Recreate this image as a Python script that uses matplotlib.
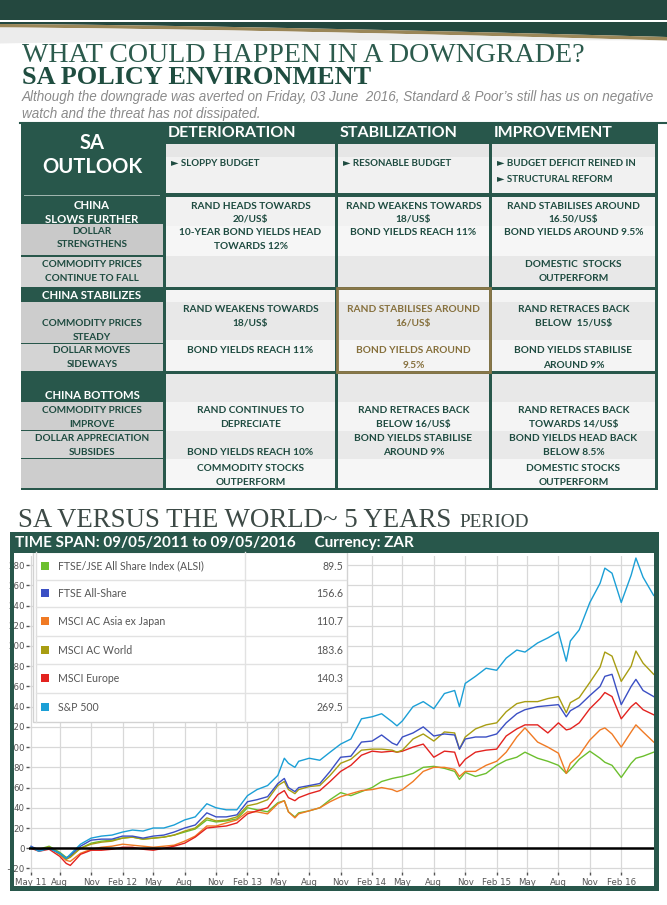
import matplotlib
matplotlib.use('Agg')
import matplotlib.pyplot as plt
from matplotlib.patches import Rectangle, Polygon
import numpy as np
import pandas as pd

# ---------------- chart data (% change since 09/05/2011) ----------------
dates = pd.to_datetime([
    '2011-05-09', '2011-06-01', '2011-07-01', '2011-08-01', '2011-08-20', '2011-09-01', '2011-10-01',
    '2011-11-01', '2011-12-01', '2012-01-01', '2012-02-01', '2012-03-01', '2012-04-01', '2012-05-01',
    '2012-06-01', '2012-07-01', '2012-08-01', '2012-09-01', '2012-10-05', '2012-11-01', '2012-12-01',
    '2013-01-01', '2013-02-01', '2013-03-01', '2013-04-01', '2013-05-01', '2013-05-20', '2013-06-01',
    '2013-06-20', '2013-07-01', '2013-08-01', '2013-09-01', '2013-10-01', '2013-11-01', '2013-12-01',
    '2014-01-01', '2014-02-01', '2014-03-01', '2014-04-01', '2014-04-15', '2014-05-01', '2014-06-01',
    '2014-07-01', '2014-08-01', '2014-09-01', '2014-10-01', '2014-10-15', '2014-11-01', '2014-12-01',
    '2015-01-01', '2015-02-01', '2015-03-01', '2015-04-01', '2015-04-25', '2015-06-01', '2015-07-01',
    '2015-08-01', '2015-08-24', '2015-09-05', '2015-10-01', '2015-11-01', '2015-12-01', '2015-12-15',
    '2016-01-05', '2016-02-01', '2016-03-01', '2016-03-15', '2016-04-05', '2016-05-06'])

sp500 = [1, -3, 0, -5, -10, -6, 4, 10, 12, 13, 16, 18, 17, 20, 20, 23, 28, 31, 44, 40, 38,
         38, 52, 58, 62, 72, 89, 84, 80, 86, 89, 87, 95, 103, 108, 128, 130, 133, 125, 121, 126, 140,
         145, 138, 153, 156, 140, 163, 170, 178, 176, 188, 196, 194, 203, 208, 214, 185, 205, 216, 243,
         262, 277, 272, 243, 270, 287, 268, 250]
msci_world = [1, -2, 1, -6, -11, -9, 0, 4, 6, 7, 10, 11, 9, 10, 11, 13, 17, 20, 30, 27, 28,
              31, 42, 44, 48, 62, 66, 58, 54, 58, 61, 62, 72, 84, 88, 97, 98, 98, 97, 95, 97, 108,
              113, 106, 115, 114, 98, 110, 118, 122, 124, 135, 143, 145, 145, 148, 150, 134, 144, 149, 164,
              179, 194, 190, 165, 180, 195, 183, 172]
ftse_all = [2, -2, 0, -5, -10, -7, 2, 8, 9, 9, 12, 12, 10, 12, 13, 16, 20, 23, 35, 31, 31,
            33, 46, 48, 51, 64, 69, 60, 56, 60, 62, 64, 76, 90, 91, 105, 106, 112, 104, 102, 110, 114,
            120, 111, 113, 112, 98, 108, 110, 110, 113, 124, 133, 137, 140, 141, 142, 130, 136, 141, 151,
            160, 170, 172, 142, 160, 167, 156, 150]
msci_europe = [0, -3, -1, -8, -15, -17, -6, -2, -2, -1, 1, 1, -1, -2, 0, 2, 5, 11, 20, 21, 22,
               25, 34, 37, 40, 53, 57, 50, 47, 50, 54, 57, 66, 76, 82, 92, 96, 95, 96, 95, 96, 100,
               103, 90, 96, 95, 81, 88, 95, 97, 98, 111, 118, 122, 122, 114, 124, 117, 118, 124, 138,
               148, 154, 150, 128, 140, 144, 137, 132]
msci_asia = [0, -2, 1, -6, -12, -13, -5, -1, 1, 2, 4, 3, 2, 1, 2, 3, 7, 12, 22, 22, 25,
             28, 36, 36, 34, 44, 47, 36, 30, 34, 37, 40, 46, 51, 54, 57, 58, 60, 58, 56, 58, 66,
             76, 80, 80, 78, 71, 76, 76, 82, 86, 95, 110, 119, 105, 100, 94, 74, 84, 92, 107,
             117, 119, 113, 100, 115, 122, 115, 105]
alsi = [1, -1, 2, -4, -9, -8, 0, 5, 7, 8, 10, 11, 9, 10, 11, 13, 16, 19, 28, 26, 27,
        29, 40, 38, 36, 45, 47, 36, 31, 35, 37, 40, 48, 55, 52, 56, 60, 66, 69, 70, 71, 74,
        80, 81, 79, 76, 68, 75, 71, 74, 82, 87, 90, 95, 89, 86, 82, 74, 78, 88, 96,
        89, 85, 82, 70, 84, 89, 91, 95]

index_names = ['FTSE/JSE All Share Index (ALSI)', 'FTSE All-Share', 'MSCI AC Asia ex Japan',
               'MSCI AC World', 'MSCI Europe', 'S&P 500']
index_values = [89.5, 156.6, 110.7, 183.6, 140.3, 269.5]
line_colors = ['#6cbf2e', '#3b4fc4', '#f07a24', '#a89d12', '#e3231f', '#1b9fd6']

# ---------------- table text ----------------
col_heads = ['DETERIORATION', 'STABILIZATION', 'IMPROVEMENT']
budget_text = [['► SLOPPY BUDGET'], ['► RESONABLE BUDGET'],
               ['► BUDGET DEFICIT REINED IN', '► STRUCTURAL REFORM']]
slows_text = [['RAND HEADS TOWARDS', '20/US$', '10-YEAR BOND YIELDS HEAD', 'TOWARDS 12%', '', ''],
              ['RAND WEAKENS TOWARDS', '18/US$', 'BOND YIELDS REACH 11%', '', '', ''],
              ['RAND STABILISES AROUND', '16.50/US$', 'BOND YIELDS AROUND 9.5%', '', 'DOMESTIC  STOCKS', 'OUTPERFORM']]
stab_text = [['RAND WEAKENS TOWARDS', '18/US$', 'BOND YIELDS REACH 11%', ''],
             ['RAND STABILISES AROUND', '16/US$', 'BOND YIELDS AROUND', '9.5%'],
             ['RAND RETRACES BACK', 'BELOW  15/US$', 'BOND YIELDS STABILISE', 'AROUND 9%']]
bottom_text = [['RAND CONTINUES TO', 'DEPRECIATE', '', 'BOND YIELDS REACH 10%', 'COMMODITY STOCKS', 'OUTPERFORM'],
               ['RAND RETRACES BACK', 'BELOW 16/US$', 'BOND YIELDS STABILISE', 'AROUND 9%', '', ''],
               ['RAND RETRACES BACK', 'TOWARDS 14/US$', 'BOND YIELDS HEAD BACK', 'BELOW 8.5%', 'DOMESTIC STOCKS', 'OUTPERFORM']]

DARK = '#28574b'
TXT = '#1e4b40'
GOLD = '#86703c'
SANS = ['Lato', 'DejaVu Sans']

fig = plt.figure(figsize=(6.67, 9.05), dpi=100)
bg = fig.add_axes([0, 0, 1, 1])
bg.set_xlim(0, 667)
bg.set_ylim(905, 0)
bg.axis('off')


def box(a, x0, y0, x1, y1, c, **kw):
    a.add_patch(Rectangle((x0, y0), x1 - x0, y1 - y0, color=c, lw=0, **kw))


# top banner and swoosh
box(bg, 0, 0, 667, 20, '#24483f')
xs = np.linspace(0, 667, 60)
curve = 24 + 13 * (xs / 667) ** 1.4
bg.add_patch(Polygon(np.r_[np.c_[xs, np.full_like(xs, 22)], np.c_[xs[::-1], curve[::-1]]], color='#24483f', lw=0))
bg.add_patch(Polygon(np.r_[np.c_[xs, curve], np.c_[xs[::-1], curve[::-1] + 3.5]], color='#9a8658', lw=0))
bg.add_patch(Polygon(np.r_[np.c_[xs, curve + 3.5], np.c_[xs[::-1], (curve + 3.5 + 16 * (1 - xs / 667))[::-1]]],
                     color='#ececec', lw=0))

t1 = bg.text(22, 62, 'WHAT COULD HAPPEN IN A DOWNGRADE?', family='Liberation Serif', fontsize=20,
             color='#2c5b4d', va='baseline')
t2 = bg.text(22, 84, 'SA POLICY ENVIRONMENT', family='Liberation Serif', fontsize=18, weight='bold',
             color='#1f4d40', va='baseline')
t3 = bg.text(22, 97, 'Although the downgrade was averted on Friday, 03 June  2016, Standard & Poor\u2019s still has us on negative',
             family='Liberation Sans', style='italic', fontsize=9.5, color='#8a8a8a', va='center')
t3b = bg.text(22, 114, 'watch and the threat has not dissipated.', family='Liberation Sans', style='italic',
              fontsize=9.5, color='#8a8a8a', va='center')
bg.plot([20, 667], [123, 123], color=DARK, lw=1.5)

# ---------------- table ----------------
cols = [(166, 335), (338, 489), (492, 655)]
box(bg, 21, 124, 658, 490, DARK)
for (a, b), h in zip(cols, col_heads):
    bg.text(a + 2, 133, h, family=SANS, weight='bold', fontsize=11.5, color='white', va='center')

bands = [(144, 157, '#e6e6e6'), (157, 193, '#f1f1f1'),
         (197, 226, '#f1f1f1'), (226, 256, '#f6f6f6'), (256, 287, '#e8e8e8'),
         (290, 302, '#f4f4f4'), (302, 340, '#e8e8e8'), (340, 371, '#f4f4f4'),
         (374, 402, '#e8e8e8'), (402, 431, '#f4f4f4'), (431, 459, '#e9e9e9'), (459, 488, '#f6f6f6')]
for a, b in cols:
    for y0, y1, c in bands:
        box(bg, a, y0, b, y1, c)

# left column
box(bg, 24, 194.5, 160, 195.5, '#9fb5ae')
bg.text(92, 143, 'SA', family=SANS, weight='bold', fontsize=14.5, color='white', ha='center', va='center')
bg.text(92, 167, 'OUTLOOK', family=SANS, weight='bold', fontsize=14.5, color='white', ha='center', va='center')
grey_cells = [(224, 255, '#c9c9c9'), (257, 287, '#d4d4d4'), (302, 343, '#cdcdcd'), (344, 371, '#d4d4d4'),
              (402, 430, '#cecece'), (431, 458, '#d4d4d4'), (459, 488, '#cdcdcd')]
for y0, y1, c in grey_cells:
    box(bg, 21, y0, 163, y1, c)
white_lbl = [('CHINA', 205), ('SLOWS FURTHER', 219), ('CHINA STABILIZES', 295), ('CHINA BOTTOMS', 395)]
dark_lbl = [('DOLLAR', 231), ('STRENGTHENS', 244), ('COMMODITY PRICES', 264), ('CONTINUE TO FALL', 278),
            ('COMMODITY PRICES', 323), ('STEADY', 337), ('DOLLAR MOVES', 350), ('SIDEWAYS', 364),
            ('COMMODITY PRICES', 410), ('IMPROVE', 424), ('DOLLAR APPRECIATION', 438), ('SUBSIDES', 452)]
for s, y in white_lbl:
    bg.text(92, y, s, family=SANS, weight='bold', fontsize=8.2, color='white', ha='center', va='center')
for s, y in dark_lbl:
    bg.text(92, y, s, family=SANS, weight='bold', fontsize=7.2, color=TXT, ha='center', va='center')

# cells
for (a, b), lines in zip(cols, budget_text):
    for k, s in enumerate(lines):
        bg.text(a + 5, 163 + 17 * k, s, family=SANS, weight='bold', fontsize=7, color=TXT, va='center')


def cell_lines(texts, ys, colors):
    for (a, b), lines, c in zip(cols, texts, colors):
        for s, y in zip(lines, ys):
            if s:
                bg.text((a + b) / 2, y, s, family=SANS, weight='bold', fontsize=7.3, color=c,
                        ha='center', va='center')


cell_lines(slows_text, [206, 219, 232, 246, 264, 278], [TXT, TXT, TXT])
cell_lines(stab_text, [309, 323, 350, 365], [TXT, GOLD, TXT])
cell_lines(bottom_text, [410, 424, 438, 452, 468, 482], [TXT, TXT, TXT])
bg.add_patch(Rectangle((336.5, 287.5), 153, 84, fill=False, ec='#8a7748', lw=2))

# ---------------- chart heading ----------------
t4 = bg.text(18, 527, 'SA VERSUS THE WORLD~ 5 YEARS ', family='Liberation Serif', fontsize=19,
             color='#3d4a46', va='baseline')

# ---------------- chart ----------------
L, R, T, B = 29, 654, 556, 872
ax = fig.add_axes([L / 667, 1 - B / 905, (R - L) / 667, (B - T) / 905])
ax.set_facecolor('white')
series = [alsi, ftse_all, msci_asia, msci_world, msci_europe, sp500]
order = [0, 2, 4, 3, 1, 5]
for i in order:
    ax.plot(dates, series[i], color=line_colors[i], lw=1.0)
ax.axhline(0, color='black', lw=1.8)
ax.set_ylim(-23.5, 289)
ax.set_xlim(pd.Timestamp('2011-05-03'), pd.Timestamp('2016-05-07'))
ax.set_yticks(range(-20, 281, 20))
ticks = [pd.Timestamp('2011-05-09')] + list(pd.date_range('2011-08-01', '2016-02-01', freq='3MS'))
labels = []
for d in ticks:
    if d.month == 2 or d == ticks[0]:
        labels.append(d.strftime('%b %y'))
    else:
        labels.append(d.strftime('%b'))
ax.set_xticks(ticks)
ax.set_xticklabels(labels)
ax.grid(True, color='#d8d8d8', lw=0.9)
ax.set_axisbelow(True)
for s in ax.spines.values():
    s.set_visible(False)
ax.tick_params(labelsize=6.2, colors='#555555', length=2, width=1, pad=2)
ax.tick_params(axis='y', pad=1)

# ---------------- legend box and frame on top ----------------
fg = fig.add_axes([0, 0, 1, 1])
fg.set_xlim(0, 667)
fg.set_ylim(905, 0)
fg.axis('off')
fg.patch.set_alpha(0)
fg.add_patch(Rectangle((33, 552), 314, 170, fc='white', ec='#d2d2d2', lw=1))
fg.plot([35.5, 35.5], [552, 722], color='#dedede', lw=1)
fg.plot([245, 245], [552, 722], color='#e2e2e2', lw=1)
row_y = [566, 593, 621, 650, 678, 707]
for k in range(1, 6):
    yy = (row_y[k - 1] + row_y[k]) / 2
    fg.plot([36, 346], [yy, yy], color='#e2e2e2', lw=1)
for name, val, c, y in zip(index_names, index_values, line_colors, row_y):
    fg.add_patch(Rectangle((41, y - 4), 8, 8, color=c, lw=0))
    fg.text(58, y, name, family=SANS, fontsize=7.6, color='#555555', va='center')
    fg.text(343, y, f'{val:.1f}', family=SANS, fontsize=7.6, color='#555555', va='center', ha='right')

box(fg, 10, 532, 659, 553, DARK)
box(fg, 10, 532, 14, 891, DARK)
box(fg, 654, 532, 659, 891, DARK)
box(fg, 10, 886, 659, 891, DARK)
fg.text(15, 543, 'TIME SPAN: 09/05/2011 to 09/05/2016     Currency: ZAR', family=SANS, fontsize=11,
        weight='bold', color='white', va='center')

# fit the serif headings to the widths in the picture
fig.canvas.draw()
r = fig.canvas.get_renderer()


def fit(t, w):
    bb = t.get_window_extent(r)
    t.set_fontsize(t.get_fontsize() * w / bb.width)


fit(t1, 563)
fit(t2, 350)
fit(t3, 635)
t3b.set_fontsize(t3.get_fontsize())
fit(t4, 440)
fig.canvas.draw()
bb = t4.get_window_extent(r)
bg.text(18 + bb.width + 1, 527, 'PERIOD', family='Liberation Serif', fontsize=t4.get_fontsize() * 0.72,
        color='#3d4a46', va='baseline')

fig.savefig('out.png', dpi=100)
